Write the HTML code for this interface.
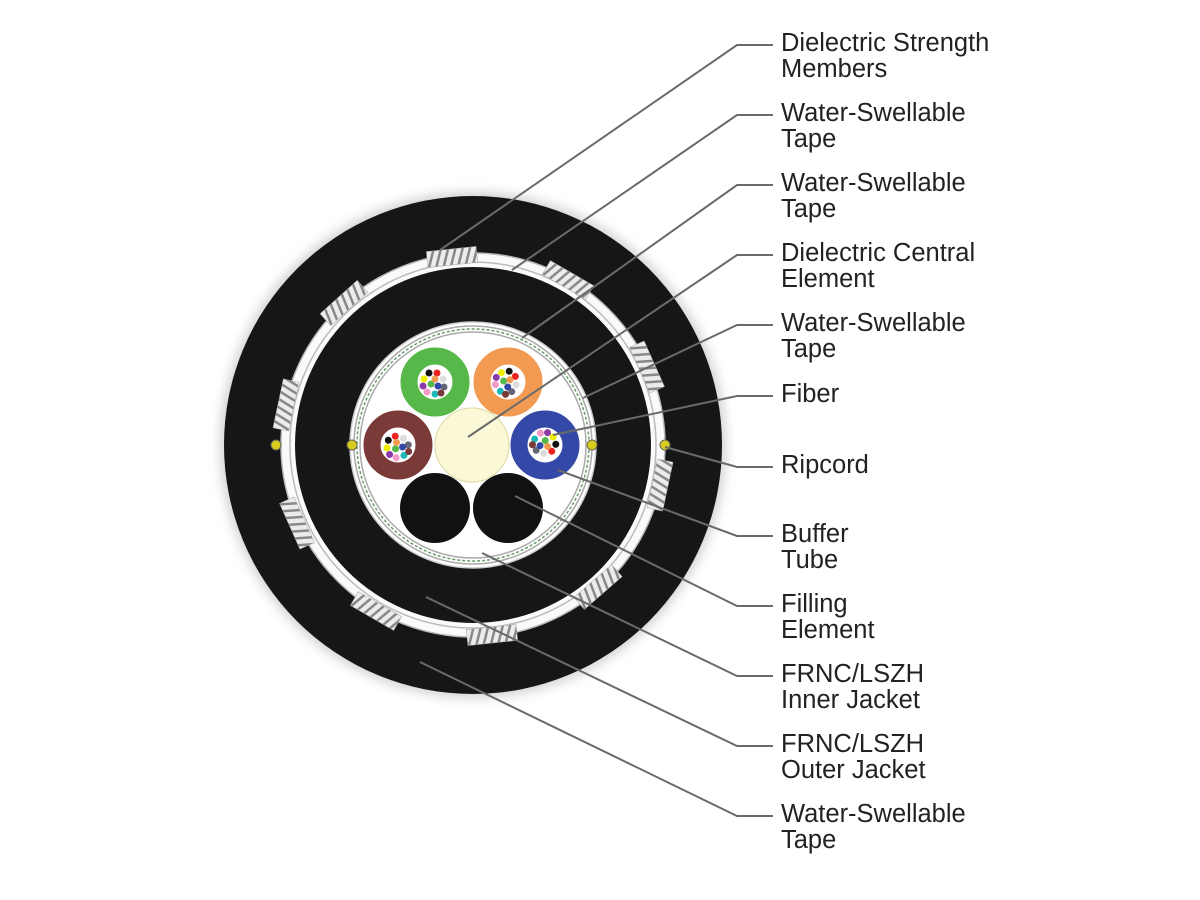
<!DOCTYPE html>
<html><head><meta charset="utf-8"><style>
html,body{margin:0;padding:0;background:#fff}
svg{display:block}
text{font-family:"Liberation Sans",Arial,sans-serif;font-size:25.5px;fill:#222}
</style></head><body>
<svg width="1200" height="900" viewBox="0 0 1200 900" xmlns="http://www.w3.org/2000/svg">
<defs>
<filter id="sh" x="-20%" y="-20%" width="140%" height="140%"><feGaussianBlur stdDeviation="6"/></filter>
<pattern id="st" width="7" height="16" patternUnits="userSpaceOnUse" patternTransform="rotate(20)">
<rect width="7" height="16" fill="#ececec"/><rect width="2.5" height="16" fill="#888"/></pattern>
<g id="fb">
<circle cx="-6" cy="-9" r="3.5" fill="#111"/><circle cx="2" cy="-9" r="3.5" fill="#e22"/>
<circle cx="-11" cy="-3" r="3.5" fill="#ee0"/><circle cx="8" cy="-3" r="3.5" fill="#ddd"/>
<circle cx="-12" cy="4" r="3.5" fill="#8a3aa8"/><circle cx="9" cy="5" r="3.5" fill="#667"/>
<circle cx="-8" cy="10" r="3.5" fill="#f29ac8"/><circle cx="0" cy="12" r="3.5" fill="#1cb8b8"/>
<circle cx="6" cy="11" r="3.5" fill="#7a3a38"/><circle cx="-4" cy="2" r="3.5" fill="#55b848"/>
<circle cx="3" cy="4" r="3.5" fill="#3448a8"/><circle cx="0" cy="-3" r="3.5" fill="#f39a52"/>
</g>
</defs>
<circle cx="473" cy="445" r="252" fill="#999" opacity="0.5" filter="url(#sh)"/>
<circle cx="473" cy="445" r="249" fill="#161616"/>
<circle cx="473" cy="445" r="192" fill="#fafafa" stroke="#bbb" stroke-width="1.5"/>
<circle cx="473" cy="445" r="183" fill="none" stroke="#bbb" stroke-width="1.5"/>
<circle cx="473" cy="445" r="178" fill="#161616"/>
<circle cx="473" cy="445" r="123" fill="#fff" stroke="#ccc" stroke-width="1.5"/>
<circle cx="473" cy="445" r="119" fill="none" stroke="#aaa" stroke-width="1.5"/>
<circle cx="473" cy="445" r="116" fill="none" stroke="#6a9a6a" stroke-width="1.5" stroke-dasharray="3 2"/>
<circle cx="473" cy="445" r="113" fill="none" stroke="#aaa" stroke-width="1.5"/>
<g fill="url(#st)" stroke="#aaa" stroke-width="0.5">
<rect x="-25" y="-8" width="50" height="16" transform="translate(452,257) rotate(-6)"/>
<rect x="-25" y="-8" width="50" height="16" transform="translate(568,280) rotate(30)"/>
<rect x="-25" y="-8" width="50" height="16" transform="translate(344,303) rotate(-42)"/>
<rect x="-25" y="-8" width="50" height="16" transform="translate(286,405) rotate(-78)"/>
<rect x="-25" y="-8" width="50" height="16" transform="translate(647,367) rotate(66)"/>
<rect x="-25" y="-8" width="50" height="16" transform="translate(297,523) rotate(66)"/>
<rect x="-25" y="-8" width="50" height="16" transform="translate(660,485) rotate(-78)"/>
<rect x="-25" y="-8" width="50" height="16" transform="translate(376,611) rotate(30)"/>
<rect x="-25" y="-8" width="50" height="16" transform="translate(598,587) rotate(-41)"/>
<rect x="-25" y="-8" width="50" height="16" transform="translate(492,635) rotate(-6)"/>
</g>
<g fill="#d8cc20" stroke="#665" stroke-width="1">
<circle cx="276" cy="445" r="5"/><circle cx="352" cy="445" r="5"/><circle cx="592" cy="445" r="5"/><circle cx="665" cy="445" r="5"/>
</g>
<circle cx="472" cy="445" r="37" fill="#fbf8d8" stroke="#ddd8a0" stroke-width="1"/>
<circle cx="435" cy="508" r="35" fill="#111"/>
<circle cx="508" cy="508" r="35" fill="#111"/>
<g stroke-width="17" fill="#fff">
<circle cx="435" cy="382" r="26" stroke="#55b848"/>
<circle cx="508" cy="382" r="26" stroke="#f39a52"/>
<circle cx="398" cy="445" r="26" stroke="#7a3a38"/>
<circle cx="545" cy="445" r="26" stroke="#3448a8"/>
</g>
<use href="#fb" transform="translate(435 382)"/>
<use href="#fb" transform="translate(508 382) rotate(40)"/>
<use href="#fb" transform="translate(398 445) rotate(-30)"/>
<use href="#fb" transform="translate(545 445) rotate(120)"/>
<g stroke="#6a6a6a" stroke-width="2" fill="none">
<polyline points="440,250 737,45 773,45"/>
<polyline points="512,270 737,115 773,115"/>
<polyline points="522,338 737,185 773,185"/>
<polyline points="468,437 737,255 773,255"/>
<polyline points="583,398 737,325 773,325"/>
<polyline points="553,435 737,396 773,396"/>
<polyline points="665,447 737,467 773,467"/>
<polyline points="558,470 737,536 773,536"/>
<polyline points="515,496 737,606 773,606"/>
<polyline points="482,553 737,676 773,676"/>
<polyline points="426,597 737,746 773,746"/>
<polyline points="420,662 737,816 773,816"/>
</g>
<g>
<text x="781" y="51">Dielectric Strength</text><text x="781" y="77">Members</text>
<text x="781" y="121">Water-Swellable</text><text x="781" y="147">Tape</text>
<text x="781" y="191">Water-Swellable</text><text x="781" y="217">Tape</text>
<text x="781" y="261">Dielectric Central</text><text x="781" y="287">Element</text>
<text x="781" y="331">Water-Swellable</text><text x="781" y="357">Tape</text>
<text x="781" y="402">Fiber</text>
<text x="781" y="473">Ripcord</text>
<text x="781" y="542">Buffer</text><text x="781" y="568">Tube</text>
<text x="781" y="612">Filling</text><text x="781" y="638">Element</text>
<text x="781" y="682">FRNC/LSZH</text><text x="781" y="708">Inner Jacket</text>
<text x="781" y="752">FRNC/LSZH</text><text x="781" y="778">Outer Jacket</text>
<text x="781" y="822">Water-Swellable</text><text x="781" y="848">Tape</text>
</g>
</svg>
</body></html>
